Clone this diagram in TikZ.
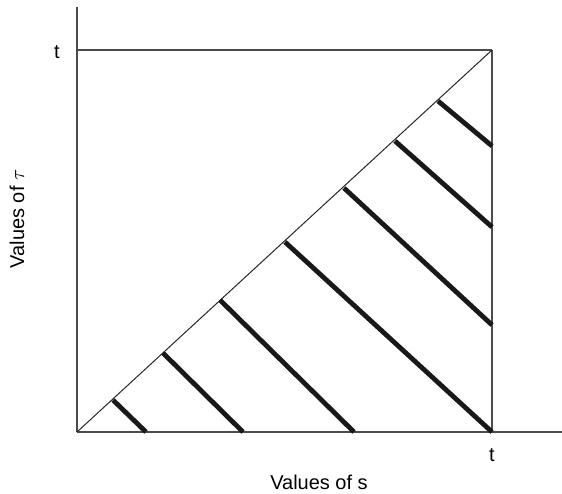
\documentclass[tikz,border=0pt]{standalone}
\usepackage{fontspec}
\setmainfont{Liberation Sans}
\begin{document}
\begin{tikzpicture}[x=1pt,y=-1pt,
  axis/.style={draw=black!70,line width=1.4pt},
  thin/.style={draw=black!85,line width=1pt},
  hatch/.style={draw=black!90,line width=4.8pt,line cap=butt},
  lbl/.style={font=\fontsize{20}{24}\selectfont,inner sep=0pt}]
\useasboundingbox (0,0) rectangle (562,493);
% frame coordinates
\coordinate (O) at (77,432);
\coordinate (ytop) at (77,7);
\coordinate (xend) at (562,432);
\coordinate (TL) at (77,50);
\coordinate (TR) at (492,50);
\coordinate (BR) at (492,432);
% axes and box
\draw[axis] (O) -- (ytop);
\draw[axis] (O) -- (xend);
\draw[axis] (TL) -- (TR);
\draw[axis] (TR) -- (BR);
\draw[thin] (O) -- (TR);
% hatch lines
\coordinate (a1) at (113,400); \coordinate (b1) at (146,432);
\coordinate (a2) at (163,353); \coordinate (b2) at (243,432);
\coordinate (a3) at (220,300); \coordinate (b3) at (354,432);
\coordinate (a4) at (285,242); \coordinate (b4) at (492,432);
\coordinate (a5) at (344,188); \coordinate (b5) at (492,325);
\coordinate (a6) at (395,141); \coordinate (b6) at (492,227);
\coordinate (a7) at (438,101); \coordinate (b7) at (492,146);
\foreach \i in {1,...,7} {\draw[hatch] (a\i) -- (b\i);}
% labels
\node[lbl] (tleft) at (57,52) {t};
\node[lbl] (tbottom) at (492,455) {t};
\node[lbl] (xlabel) at (319,482) {Values of s};
\node[lbl,rotate=90] (ylabel) at (17,219) {Values of $\tau$};
\end{tikzpicture}
\end{document}
